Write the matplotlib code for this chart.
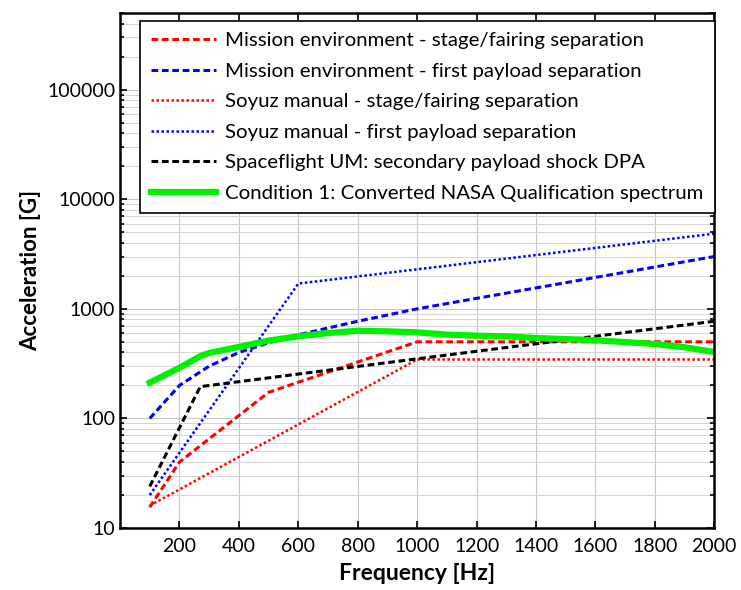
import numpy as np
import matplotlib
matplotlib.use("Agg")
import matplotlib.pyplot as plt
from matplotlib.ticker import FixedLocator, FuncFormatter, LogLocator, NullFormatter

plt.rcParams['font.family'] = ['Lato', 'DejaVu Sans']

# mission environment - stage/fairing separation
f_me_stage = [100, 200, 500, 1000, 2000]
a_me_stage = [15.5, 40, 173, 500, 500]

# mission environment - first payload separation
f_me_first = [100, 200, 300, 400, 500, 600, 800, 1000, 2000]
a_me_first = [100, 200, 300, 400, 490, 580, 770, 1000, 3000]

# Soyuz manual - stage/fairing separation
f_sz_stage = [100, 1000, 2000]
a_sz_stage = [16, 345, 345]

# Soyuz manual - first payload separation
f_sz_first = [100, 600, 2000]
a_sz_first = [20, 1700, 4850]

# Spaceflight UM: secondary payload shock DPA
f_sf = [100, 270, 1000, 2000]
a_sf = [24, 195, 350, 770]

# Condition 1: converted NASA qualification spectrum
f_c1 = [100, 200, 270, 300, 400, 500, 600, 700, 800, 900, 1000, 1100, 1200,
        1300, 1400, 1600, 1800, 1900, 2000]
a_c1 = [212, 290, 370, 396, 449, 513, 561, 601, 631, 623, 610, 581, 569,
        561, 542, 517, 478, 446, 404]

labels = ["Mission environment - stage/fairing separation",
          "Mission environment - first payload separation",
          "Soyuz manual - stage/fairing separation",
          "Soyuz manual - first payload separation",
          "Spaceflight UM: secondary payload shock DPA",
          "Condition 1: Converted NASA Qualification spectrum"]

fig = plt.figure(figsize=(7.41, 5.90), dpi=100)
ax = fig.add_axes([0.162, 0.105, 0.802, 0.873])

dash = (0, (2.2, 1.2))
dot = (0, (1, 1))
ax.plot(f_me_stage, a_me_stage, color='#ff0000', ls=dash, lw=2.2, label=labels[0])
ax.plot(f_me_first, a_me_first, color='#0000ff', ls=dash, lw=2.2, label=labels[1])
ax.plot(f_sz_stage, a_sz_stage, color='#ff0000', ls=dot, lw=1.8, label=labels[2])
ax.plot(f_sz_first, a_sz_first, color='#0000ff', ls=dot, lw=1.8, label=labels[3])
ax.plot(f_sf, a_sf, color='black', ls=dash, lw=2.2, label=labels[4])
ax.plot(f_c1, a_c1, color='#00f000', ls='-', lw=4.5, label=labels[5])

ax.set_yscale('log')
ax.set_xlim(0, 2000)
ax.set_ylim(10, 5e5)
ax.xaxis.set_major_locator(FixedLocator(np.arange(200, 2001, 200)))
ax.yaxis.set_major_locator(LogLocator(base=10, numticks=10))
ax.yaxis.set_minor_locator(LogLocator(base=10, subs=np.arange(2, 10), numticks=20))
ax.yaxis.set_major_formatter(FuncFormatter(lambda v, p: "%d" % round(v)))
ax.yaxis.set_minor_formatter(NullFormatter())

ax.grid(True, which='major', color='#c8c8c8', lw=0.8, ls='-')
ax.grid(True, which='minor', axis='y', color='#d4d4d4', lw=0.7, ls='-')
ax.set_axisbelow(True)

ax.tick_params(which='both', direction='in', top=True, right=True, labelsize=14, width=1.2)
ax.tick_params(which='major', length=5)
ax.tick_params(which='minor', length=3)
ax.tick_params(axis='x', pad=7)
for s in ax.spines.values():
    s.set_linewidth(1.8)

ax.set_xlabel("Frequency [Hz]", fontsize=16.5, fontweight='bold', labelpad=6)
ax.set_ylabel("Acceleration [G]", fontsize=16, fontweight='bold')

leg = ax.legend(loc='upper left', bbox_to_anchor=(0.033, 0.985), fontsize=14.7,
                handlelength=3.2, handletextpad=0.45, labelspacing=0.65,
                borderpad=0.55, borderaxespad=0, fancybox=False, framealpha=1,
                edgecolor='black')
leg.get_frame().set_linewidth(1.2)

fig.savefig("out.png", dpi=100)
